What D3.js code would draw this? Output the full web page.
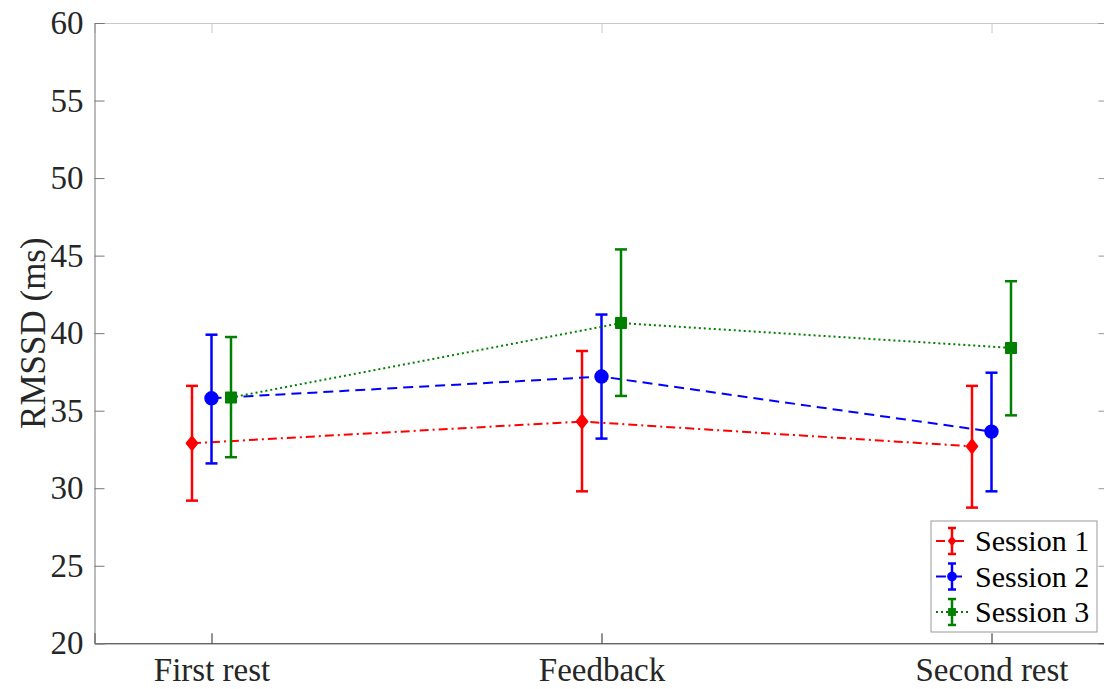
<!DOCTYPE html>
<html>
<head>
<meta charset="utf-8">
<script src="https://cdn.jsdelivr.net/npm/d3@7"></script>
<style>
  body { margin: 0; background: #fff; }
  svg { display: block; }
  svg text { font-family: "Liberation Serif", "Times New Roman", serif; }
</style>
</head>
<body>
<svg id="chart" width="1104" height="689"></svg>
<script>
// categories and tick labels
const conditions = ['First rest', 'Feedback', 'Second rest'];
const yTicks = [20, 25, 30, 35, 40, 45, 50, 55, 60];
const sessions = ['Session 1', 'Session 2', 'Session 3'];

// means and error bar ends (upper / lower) per session
const session1Mean = [32.9, 34.3, 32.7];
const session1Up = [36.6, 38.85, 36.6];
const session1Low = [29.2, 29.8, 28.75];

const session2Mean = [35.8, 37.2, 33.65];
const session2Up = [39.9, 41.2, 37.45];
const session2Low = [31.6, 33.2, 29.8];

const session3Mean = [35.85, 40.65, 39.05];
const session3Up = [39.75, 45.4, 43.35];
const session3Low = [32.0, 35.95, 34.7];

let config = {
    left: 94.5,
    right: 1108.5,
    top: 23,
    bottom: 643.3,
    offset: 0.05,
};

const series = [
    { name: sessions[0], mean: session1Mean, up: session1Up, low: session1Low, color: '#ff0000', dash: '9,4,2,4', marker: 'diamond', shift: -config.offset },
    { name: sessions[1], mean: session2Mean, up: session2Up, low: session2Low, color: '#0000ff', dash: '10,6', marker: 'circle', shift: 0 },
    { name: sessions[2], mean: session3Mean, up: session3Up, low: session3Low, color: '#008000', dash: '2,3', marker: 'square', shift: config.offset },
];

const svg = d3.select('#chart');

let x = d3.scaleLinear().domain([0.7, 3.3]).range([config.left, config.right]);
let y = d3.scaleLinear().domain([20, 60]).range([config.bottom, config.top]);

// custom marker shapes
const diamond = {
    draw(ctx, size) {
        let h = Math.sqrt(size) * 0.62, w = h * 0.8;
        ctx.moveTo(0, -h); ctx.lineTo(w, 0); ctx.lineTo(0, h); ctx.lineTo(-w, 0); ctx.closePath();
    }
};
const square = {
    draw(ctx, size) {
        let s = Math.sqrt(size) / 2;
        ctx.moveTo(-s, -s); ctx.lineTo(s, -s); ctx.lineTo(s, s); ctx.lineTo(-s, s); ctx.closePath();
    }
};
function markerPath(kind, scale) {
    if (kind === 'diamond') return d3.symbol(diamond, 130 * scale * scale)();
    if (kind === 'square') return d3.symbol(square, 110 * scale * scale)();
    return d3.symbol(d3.symbolCircle, Math.PI * 42 * scale * scale)();
}

const axisColor = '#262626';
const serif = '"Liberation Serif", "Times New Roman", serif';

// box (top/right, lighter)
svg.append('g')
    .attr('transform', 'translate(0,' + config.top + ')')
    .call(d3.axisBottom(x).tickValues([1, 2, 3]).tickSize(10).tickFormat(''))
    .call(g => g.selectAll('path, line').attr('stroke', '#c8c8c8'));
svg.append('g')
    .attr('transform', 'translate(' + config.right + ',0)')
    .call(d3.axisLeft(y).tickValues(yTicks).tickSize(10).tickFormat(''))
    .call(g => g.selectAll('path, line').attr('stroke', '#999'));

// bottom axis
let xAxis = svg.append('g')
    .attr('transform', 'translate(0,' + config.bottom + ')')
    .call(d3.axisBottom(x).tickValues([1, 2, 3]).tickSize(-10).tickPadding(14)
        .tickFormat(d => conditions[d - 1]));
xAxis.attr('font-family', null).attr('font-size', null);
xAxis.selectAll('path, line').attr('stroke', axisColor);
xAxis.selectAll('text').style('font-size', '33px').style('font-family', serif).attr('fill', axisColor);

// left axis
let yAxis = svg.append('g')
    .attr('transform', 'translate(' + config.left + ',0)')
    .call(d3.axisLeft(y).tickValues(yTicks).tickSize(-10).tickPadding(11));
yAxis.attr('font-family', null).attr('font-size', null);
yAxis.selectAll('path, line').attr('stroke', '#777');
yAxis.selectAll('text').style('font-size', '33px').style('font-family', serif).attr('fill', axisColor);

// y label
svg.append('text')
    .attr('transform', 'translate(45,' + ((config.top + config.bottom) / 2) + ') rotate(-90)')
    .attr('text-anchor', 'middle')
    .style('font-size', '35px')
    .attr('fill', axisColor)
    .text('RMSSD (ms)');

// series
const canvas = svg.append('g').classed('canvas', true);
series.forEach(s => {
    let g = canvas.append('g');
    let pts = s.mean.map((m, i) => ({ x: i + 1 + s.shift, m: m, up: s.up[i], low: s.low[i] }));

    g.append('path')
        .datum(pts)
        .attr('fill', 'none')
        .attr('stroke', s.color)
        .attr('stroke-width', 2)
        .attr('stroke-dasharray', s.dash)
        .attr('d', d3.line().x(d => x(d.x)).y(d => y(d.m)));

    let eb = g.selectAll('g.errbar').data(pts).enter().append('g').classed('errbar', true)
        .attr('stroke', s.color).attr('stroke-width', 2.5);
    eb.append('line')
        .attr('x1', d => x(d.x)).attr('x2', d => x(d.x))
        .attr('y1', d => y(d.up)).attr('y2', d => y(d.low));
    eb.append('line')
        .attr('x1', d => x(d.x) - 6).attr('x2', d => x(d.x) + 6)
        .attr('y1', d => y(d.up)).attr('y2', d => y(d.up));
    eb.append('line')
        .attr('x1', d => x(d.x) - 6).attr('x2', d => x(d.x) + 6)
        .attr('y1', d => y(d.low)).attr('y2', d => y(d.low));

    g.selectAll('path.marker').data(pts).enter().append('path').classed('marker', true)
        .attr('transform', d => 'translate(' + x(d.x) + ',' + y(d.m) + ')')
        .attr('d', markerPath(s.marker, 1))
        .attr('fill', s.color)
        .attr('stroke', s.color)
        .attr('stroke-width', 1.5)
        .attr('stroke-linejoin', 'round');
});

// legend
const legend = svg.append('g').classed('legend', true).attr('transform', 'translate(931,521)');
legend.append('rect')
    .attr('width', 166).attr('height', 111)
    .attr('fill', '#fff').attr('stroke', '#999').attr('stroke-width', 1);
series.forEach((s, i) => {
    let row = legend.append('g').attr('transform', 'translate(0,' + (20 + 35.5 * i) + ')');
    row.append('line')
        .attr('x1', 5).attr('x2', 37).attr('y1', 0).attr('y2', 0)
        .attr('stroke', s.color).attr('stroke-width', 2).attr('stroke-dasharray', s.dash);
    row.append('line')
        .attr('x1', 21).attr('x2', 21).attr('y1', -13).attr('y2', 13)
        .attr('stroke', s.color).attr('stroke-width', 2.5);
    [-13, 13].forEach(c => row.append('line')
        .attr('x1', 17).attr('x2', 25).attr('y1', c).attr('y2', c)
        .attr('stroke', s.color).attr('stroke-width', 2.5));
    row.append('path')
        .attr('transform', 'translate(21,0)')
        .attr('d', markerPath(s.marker, 0.75))
        .attr('fill', s.color);
    row.append('text')
        .attr('x', 44).attr('y', 10)
        .style('font-size', '30px')
        .attr('fill', '#000')
        .text(s.name);
});
</script>
</body>
</html>
